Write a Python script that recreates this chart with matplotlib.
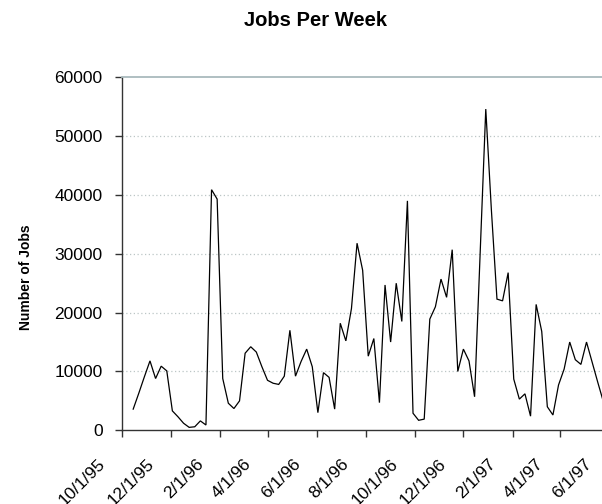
import matplotlib
matplotlib.use("Agg")
import matplotlib.pyplot as plt
import matplotlib.dates as mdates
from matplotlib.transforms import ScaledTranslation
import pandas as pd

# Weekly job counts, one value per week starting from first_week
first_week = "1995-10-15"
jobs = [
    3600, 6300, 9100, 11800, 8800, 10900, 10100, 3300, 2300, 1200,
    500, 600, 1600, 900, 40900, 39300, 8800, 4600, 3700, 5000,
    13100, 14200, 13300, 10800, 8500, 8000, 7800, 9200, 17000, 9200,
    11700, 13800, 10800, 3000, 9800, 9000, 3600, 18200, 15200, 20700,
    31800, 27200, 12600, 15600, 4700, 24700, 15000, 25000, 18500, 39000,
    2900, 1700, 1900, 18900, 21000, 25700, 22600, 30700, 10000, 13800,
    11800, 5700, 30200, 54600, 37500, 22300, 22000, 26800, 8700, 5300,
    6200, 2400, 21400, 16800, 4000, 2600, 7700, 10400, 15000, 12000,
    11200, 15000, 11600, 8200, 4900,
]

tick_dates = [
    "1995-10-01", "1995-12-01", "1996-02-01", "1996-04-01", "1996-06-01",
    "1996-08-01", "1996-10-01", "1996-12-01", "1997-02-01", "1997-04-01",
    "1997-06-01",
]
tick_labels = [
    "10/1/95", "12/1/95", "2/1/96", "4/1/96", "6/1/96", "8/1/96",
    "10/1/96", "12/1/96", "2/1/97", "4/1/97", "6/1/97",
]
y_ticks = [0, 10000, 20000, 30000, 40000, 50000, 60000]

plt.rcParams["font.family"] = ["Liberation Sans", "DejaVu Sans"]

W, H = 602, 504
fig = plt.figure(figsize=(W / 100, H / 100), dpi=100)

# plot area runs past the right edge of the canvas
left_px, right_px, bottom_px, top_px = 122, 700, 73.7, 426.7
ax = fig.add_axes([left_px / W, bottom_px / H,
                   (right_px - left_px) / W, (top_px - bottom_px) / H])

weeks = pd.date_range(first_week, periods=len(jobs), freq="7D")
ax.plot(weeks, jobs, color="black", lw=0.9, solid_joinstyle="miter")

x0 = mdates.datestr2num(tick_dates[0])
px_per_day = 0.7995
ax.set_xlim(x0, x0 + (right_px - left_px) / px_per_day)
ax.set_ylim(y_ticks[0], y_ticks[-1])

# dotted horizontal gridlines
for v in y_ticks[1:-1]:
    ax.axhline(v, color="#bcc6c6", lw=0.9, linestyle=(0, (1, 2)), zorder=0)

ax.set_yticks(y_ticks)
ax.set_yticklabels([str(v) for v in y_ticks], fontsize=12.5)
ax.set_xticks([mdates.datestr2num(d) for d in tick_dates])
ax.set_xticklabels(tick_labels, rotation=45, ha="right", va="top", fontsize=12.5)

ax.tick_params(axis="y", direction="out", length=5, width=1, pad=9, color="#333333")
ax.tick_params(axis="x", direction="out", length=5, width=1, pad=14, color="#333333")

shift = ScaledTranslation(-14 / 100, 0, fig.dpi_scale_trans)
for lbl in ax.get_xticklabels():
    lbl.set_transform(lbl.get_transform() + shift)

for side in ("left", "bottom"):
    ax.spines[side].set_color("#333333")
    ax.spines[side].set_linewidth(1.0)
ax.spines["right"].set_visible(False)
ax.spines["top"].set_color("#a9babd")
ax.spines["top"].set_linewidth(1.3)

fig.text(315 / W, 1 - 21 / H, "Jobs Per Week", ha="center", va="center",
         fontsize=14.5, fontweight="bold")
fig.text(26 / W, 1 - 277 / H, "Number of Jobs", rotation=90, ha="center",
         va="center", fontsize=10, fontweight="bold")

fig.savefig("out.png", dpi=100)
